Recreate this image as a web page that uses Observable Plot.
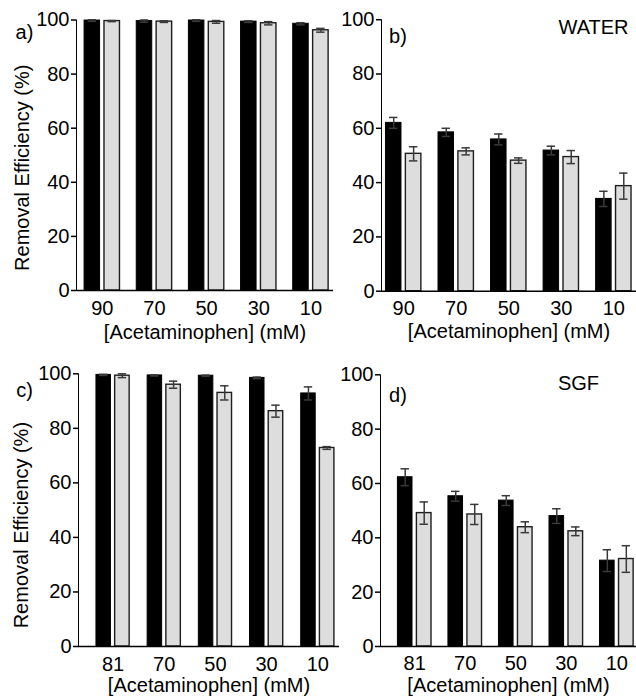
<!DOCTYPE html>
<html>
<head>
<meta charset="utf-8">
<script src="https://cdn.jsdelivr.net/npm/d3@7"></script>
<script src="https://cdn.jsdelivr.net/npm/@observablehq/plot@0.6"></script>
<style>
  body { margin: 0; background: #fff; }
  #chart { position: relative; width: 636px; height: 699px; overflow: hidden; background: #fff; }
  #chart > div { position: absolute; }
  #chart g[aria-label^="y-axis"] * { stroke-width: 1.5px; }
</style>
</head>
<body>
<div id="chart"></div>
<script>
// ---- Data ----
const concWater = ["90", "70", "50", "30", "10"];
const concSGF = ["81", "70", "50", "30", "10"];
const yTicks = [0, 20, 40, 60, 80, 100];

// a) water, high
const aBlack    = [99.8, 99.6, 99.8, 99.4, 98.6];
const aBlackErr = [0.3, 0.4, 0.3, 0.3, 0.4];
const aGray     = [99.6, 99.4, 99.3, 98.8, 96.2];
const aGrayErr  = [0.2, 0.3, 0.5, 0.6, 0.7];
// b) water
const bBlack    = [62.0, 58.5, 55.9, 51.8, 34.0];
const bBlackErr = [2.0, 1.5, 2.0, 1.6, 2.8];
const bGray     = [50.6, 51.5, 48.1, 49.4, 38.7];
const bGrayErr  = [2.6, 1.3, 1.0, 2.4, 4.8];
// c) SGF, high
const cBlack    = [99.6, 99.4, 99.3, 98.5, 92.8];
const cBlackErr = [0.2, 0.2, 0.2, 0.3, 2.4];
const cGray     = [99.3, 96.0, 93.0, 86.3, 72.8];
const cGrayErr  = [0.7, 1.3, 2.6, 2.2, 0.5];
// d) SGF
const dBlack    = [62.3, 55.3, 53.7, 48.0, 31.6];
const dBlackErr = [3.1, 1.8, 1.8, 2.7, 4.0];
const dGray     = [49.1, 48.6, 43.9, 42.4, 32.2];
const dGrayErr  = [4.1, 3.7, 2.0, 1.6, 4.9];

const xTitle = "[Acetaminophen] (mM)";
const yTitle = "Removal Efficiency (%)";

const FONT = "'Liberation Sans', Arial, Helvetica, sans-serif";
const errColor = "#3a3a3a";

function makePanel(cfg) {
  const rows = cfg.conc.map((c, i) => ({c, b: cfg.black[i], be: cfg.blackErr[i], g: cfg.gray[i], ge: cfg.grayErr[i]}));
  const bw = (cfg.xRange[1] - cfg.xRange[0]) / cfg.conc.length;
  const off = cfg.half + cfg.barW / 2;
  const capIn = bw / 2 - 4.2;
  const errStyle = {stroke: errColor, strokeWidth: 1.5};
  const txt = {text: d => d, textAnchor: "middle", lineAnchor: "middle", fontSize: 20};
  const marks = [
    Plot.barY(rows, {x: "c", y: "b", fill: "#000", stroke: "#000", strokeWidth: 1,
      insetLeft: bw / 2 - cfg.half - cfg.barW, insetRight: bw / 2 + cfg.half}),
    Plot.barY(rows, {x: "c", y: "g", fill: "#dddddd", stroke: "#1e1e1e", strokeWidth: 1.4,
      insetLeft: bw / 2 + cfg.half, insetRight: bw / 2 - cfg.half - cfg.barW}),
    Plot.ruleX(rows, {x: "c", y1: d => d.b - d.be, y2: d => d.b + d.be, dx: -off, ...errStyle}),
    Plot.tickY(rows, {x: "c", y: d => d.b + d.be, dx: -off, insetLeft: capIn, insetRight: capIn, ...errStyle}),
    Plot.tickY(rows, {x: "c", y: d => d.b - d.be, dx: -off, insetLeft: capIn, insetRight: capIn, ...errStyle}),
    Plot.ruleX(rows, {x: "c", y1: d => d.g - d.ge, y2: d => d.g + d.ge, dx: off, ...errStyle}),
    Plot.tickY(rows, {x: "c", y: d => d.g + d.ge, dx: off, insetLeft: capIn, insetRight: capIn, ...errStyle}),
    Plot.tickY(rows, {x: "c", y: d => d.g - d.ge, dx: off, insetLeft: capIn, insetRight: capIn, ...errStyle}),
    Plot.ruleY([0], {stroke: "#000", strokeWidth: 1.6}),
    Plot.text([cfg.letter], {...txt, frameAnchor: "top-left", dx: cfg.letterDx, dy: cfg.letterDy})
  ];
  if (cfg.tag) marks.push(Plot.text([cfg.tag], {...txt, frameAnchor: "top-right", dx: cfg.tagDx, dy: cfg.tagDy}));
  if (cfg.yLabel) marks.push(Plot.text([yTitle], {...txt, frameAnchor: "left", rotate: -90, dx: cfg.yLabelDx, dy: cfg.yLabelDy}));

  const svg = Plot.plot({
    width: cfg.width,
    height: cfg.height,
    marginLeft: cfg.marginLeft,
    marginRight: cfg.marginRight,
    marginTop: cfg.marginTop,
    marginBottom: cfg.marginBottom,
    style: {fontFamily: FONT, fontSize: "20px", color: "#000", background: "transparent", overflow: "visible"},
    x: {type: "band", domain: cfg.conc, range: cfg.xRange, padding: 0, round: false,
        tickSize: 0, tickPadding: cfg.tickPad, label: xTitle, labelAnchor: "center", labelOffset: cfg.labelOffset},
    y: {domain: [0, 100], ticks: yTicks, tickSize: 5, tickPadding: 2, line: true, label: null},
    marks
  });
  const wrap = document.createElement("div");
  wrap.style.left = cfg.left + "px";
  wrap.style.top = cfg.top + "px";
  wrap.appendChild(svg);
  document.getElementById("chart").appendChild(wrap);
}

makePanel({
  conc: concWater, black: aBlack, blackErr: aBlackErr, gray: aGray, grayErr: aGrayErr,
  left: 0, top: 0, width: 340, height: 345,
  marginLeft: 76, marginRight: 7, marginTop: 19.5, marginBottom: 55,
  xRange: [75.7, 336.5], half: 2.2, barW: 15.5, labelOffset: 48, tickPad: 10,
  letter: "a)", letterDx: -52, letterDy: 13,
  yLabel: true, yLabelDx: -54, yLabelDy: 12.5
});
makePanel({
  conc: concWater, black: bBlack, blackErr: bBlackErr, gray: bGray, grayErr: bGrayErr,
  left: 340, top: 0, width: 296, height: 345,
  marginLeft: 41, marginRight: 0, marginTop: 19.2, marginBottom: 54.3,
  xRange: [36.9, 299.6], half: 2.2, barW: 15.5, labelOffset: 46.5, tickPad: 10,
  letter: "b)", letterDx: 16.5, letterDy: 17,
  tag: "WATER", tagDx: -43, tagDy: 7.5
});
makePanel({
  conc: concSGF, black: cBlack, blackErr: cBlackErr, gray: cGray, grayErr: cGrayErr,
  left: 0, top: 345, width: 340, height: 354,
  marginLeft: 78, marginRight: 1, marginTop: 28.3, marginBottom: 53,
  xRange: [86.96, 342.9], half: 2.1, barW: 14.5, labelOffset: 45, tickPad: 10,
  letter: "c)", letterDx: -54, letterDy: 17,
  yLabel: true, yLabelDx: -57, yLabelDy: 15
});
makePanel({
  conc: concSGF, black: dBlack, blackErr: dBlackErr, gray: dGray, grayErr: dGrayErr,
  left: 340, top: 345, width: 296, height: 354,
  marginLeft: 40, marginRight: 0, marginTop: 29.3, marginBottom: 53,
  xRange: [48.93, 301.59], half: 2.2, barW: 14.6, labelOffset: 45, tickPad: 9.5,
  letter: "d)", letterDx: 17.5, letterDy: 21,
  tag: "SGF", tagDx: -58, tagDy: 9
});
</script>
</body>
</html>
